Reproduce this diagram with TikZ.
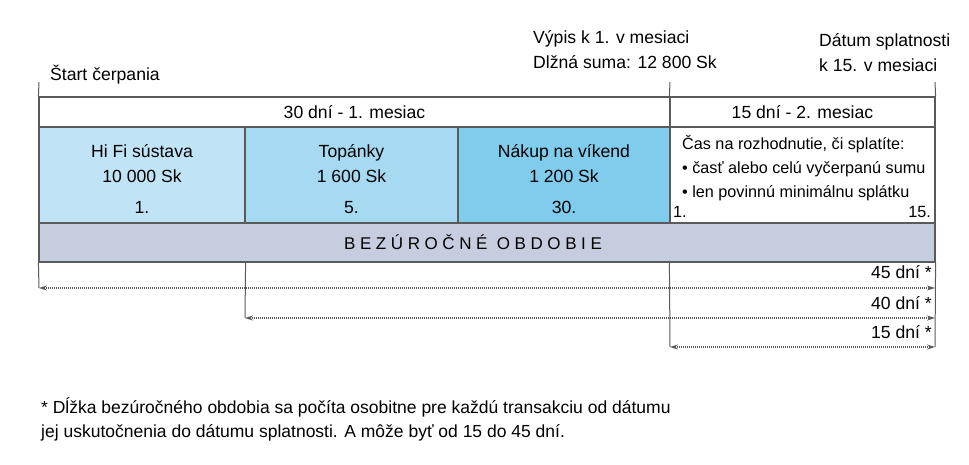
\documentclass[tikz,border=0pt]{standalone}
\usepackage{fontspec}
\setmainfont{Liberation Sans}
\usetikzlibrary{arrows.meta}
\definecolor{cellA}{RGB}{192,228,246}
\definecolor{cellB}{RGB}{166,218,242}
\definecolor{cellC}{RGB}{128,204,236}
\definecolor{band}{RGB}{198,205,222}
\definecolor{rule}{RGB}{90,90,90}
\tikzset{
        cell/.style={draw=rule, line width=1.2pt, inner sep=0pt},
        txt/.style={inner sep=0pt, font=\fontsize{17.6}{25}\selectfont},
        small/.style={inner sep=0pt, font=\fontsize{16.2}{24}\selectfont},
        tick/.style={draw=rule, line width=1pt},
        span/.style={draw=rule, line width=1.1pt, dash pattern=on 1.2pt off 0.8pt,
            {Stealth[length=8pt,width=5pt,sep=0pt]}-{Stealth[length=8pt,width=5pt,sep=0pt]}}
    }

\begin{document}
\begin{tikzpicture}[x=1pt, y=-1pt]
            \useasboundingbox (0,0) rectangle (969,464);

            \node [cell, minimum width=631, minimum height=30] (m1) at (354.5, 112) {};
            \node [cell, minimum width=265, minimum height=30] (m2) at (802.5, 112) {};
            \node [cell, fill=cellA, minimum width=206, minimum height=96] (hifi) at (142, 175) {};
            \node [cell, fill=cellB, minimum width=213, minimum height=96] (topanky) at (351.5, 175) {};
            \node [cell, fill=cellC, minimum width=212, minimum height=96] (vikend) at (564, 175) {};
            \node [cell, minimum width=265, minimum height=96] (cas) at (802.5, 175) {};
            \node [cell, fill=band, minimum width=896, minimum height=39] (band) at (487, 242.5) {};

            \node [txt] (start) at (105, 75) {Štart čerpania};
            \node [txt, align=left, anchor=west] (vypis) at (533, 50) {Výpis k 1. v mesiaci\\Dlžná suma: 12 800 Sk};
            \node [txt, align=left, anchor=west] (splatnost) at (819, 53) {Dátum splatnosti\\k 15. v mesiaci};

            \node [txt] at (m1) {30 dní - 1. mesiac};
            \node [txt] at (m2) {15 dní - 2. mesiac};
            \node [txt, align=center] at (142, 179) {Hi Fi sústava\\10 000 Sk\\[6pt]1.};
            \node [txt, align=center] at (351.5, 179) {Topánky\\1 600 Sk\\[6pt]5.};
            \node [txt, align=center] at (564, 179) {Nákup na víkend\\1 200 Sk\\[6pt]30.};
            \node [small, align=left, anchor=west] at (682, 168) {Čas na rozhodnutie, či splatíte:\\• časť alebo celú vyčerpanú sumu\\• len povinnú minimálnu splátku};
            \node [small, anchor=west] at (673, 212) {1.};
            \node [small, anchor=east] at (931, 212) {15.};
            \node [txt, font=\fontsize{17}{20}\selectfont\addfontfeature{LetterSpace=27}] at (473, 242.5) {BEZÚROČNÉ OBDOBIE};

            % ticks above and below the rows
            \coordinate (t1) at (39, 82);
            \coordinate (t2) at (670, 82);
            \coordinate (t3) at (935, 82);
            \coordinate (a45l) at (39, 288);
            \coordinate (a45r) at (935, 288);
            \coordinate (a40l) at (245, 318);
            \coordinate (a40r) at (935, 318);
            \coordinate (a15l) at (670, 347);
            \coordinate (a15r) at (935, 347);

            \draw [tick] (t1) -- (m1.north west);
            \draw [tick] (t2) -- (m2.north west);
            \draw [tick] (t3) -- (m2.north east);
            \draw [tick] (band.south west) -- (a45l);
            \draw [tick] (hifi.east |- band.south) -- (a40l);
            \draw [tick] (cas.west |- band.south) -- (a15l);
            \draw [tick] (band.south east) -- (a15r);

            \draw [span] (a45l) -- (a45r);
            \draw [span] (a40l) -- (a40r);
            \draw [span] (a15l) -- (a15r);
            \node [txt, anchor=east] (d45) at (932, 272) {45 dní *};
            \node [txt, anchor=east] (d40) at (932, 303) {40 dní *};
            \node [txt, anchor=east] (d15) at (932, 332) {15 dní *};

            \node [txt, align=left, anchor=west, font=\fontsize{17.5}{24}\selectfont] (note) at (41, 419) {* Dĺžka bezúročného obdobia sa počíta osobitne pre každú transakciu od dátumu\\jej uskutočnenia do dátumu splatnosti. A môže byť od 15 do 45 dní.};
        \end{tikzpicture}
\end{document}
